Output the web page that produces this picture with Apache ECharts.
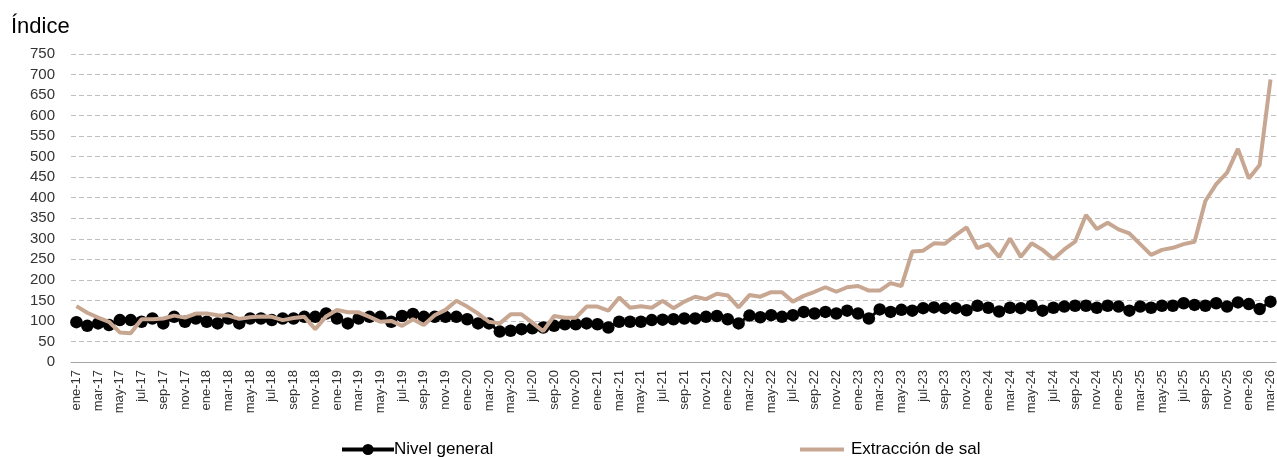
<!DOCTYPE html>
<html>
<head>
<meta charset="utf-8">
<script src="https://cdn.jsdelivr.net/npm/echarts@6/dist/echarts.min.js"></script>
<style>
html,body{margin:0;padding:0;background:#fff;}
#chart{width:1277px;height:457px;}
</style>
</head>
<body>
<div id="chart"></div>
<script>
const months = ['ene','feb','mar','abr','may','jun','jul','ago','sep','oct','nov','dic'];
const categories = [];
for (let y = 17; y <= 26; y++) {
  for (let m = 0; m < 12; m++) {
    if (y === 26 && m > 2) break;
    categories.push(months[m] + '-' + y);
  }
}
const nivelGeneral = [
  97,88,94,90,102,102,98,106,94,110,98,106,98,94,106,94,106,106,102,106,106,110,110,118,106,94,106,
  110,110,98,112,117,110,110,110,110,104,94,94,74,76,80,82,84,88,92,92,94,92,84,98,98,98,102,103,
  104,106,106,110,112,104,94,113,109,114,110,114,122,118,122,118,125,118,106,128,122,127,125,131,133,131,131,126,
  137,132,123,132,131,137,125,132,135,137,137,132,137,135,125,135,132,137,137,143,139,137,143,135,145,141,129,147
];
const extraccionSal = [
  136,120,108,98,72,70,104,104,106,113,108,118,118,114,113,105,109,111,110,102,107,110,80,111,127,121,121,
  110,98,100,88,104,90,114,127,149,135,118,98,94,116,116,96,75,112,108,108,135,135,125,157,132,136,132,149,
  131,147,159,153,166,162,133,163,159,170,170,147,161,171,182,171,182,185,174,174,192,185,269,271,289,288,309,328,
  277,287,256,301,256,289,273,251,274,293,358,324,339,323,313,287,261,273,278,287,293,392,433,461,519,447,480,688
];
const yTicks = {min: 0, max: 750, interval: 50};

const chart = echarts.init(document.getElementById('chart'), null, {renderer: 'canvas'});
chart.setOption({
  animation: false,
  backgroundColor: '#fff',
  textStyle: {fontFamily: 'Liberation Sans, Arial, sans-serif'},
  title: {
    text: 'Índice', left: 6, top: 11,
    textStyle: {fontSize: 22, fontWeight: 'normal', color: '#000', fontFamily: 'Liberation Sans'}
  },
  legend: [
    {data: ['Nivel general'], left: 335, top: 436, itemWidth: 52, itemHeight: 14, itemGap: 4,
     lineStyle: {width: 4},
     textStyle: {fontSize: 17, color: '#000', padding: [0,0,0,-5]}},
    {data: [{name: 'Extracción de sal', icon: 'rect'}], left: 795, top: 436, itemWidth: 44, itemHeight: 4,
     textStyle: {fontSize: 17, color: '#000', padding: [0,0,0,2]}}
  ],
  grid: {left: 71, right: 0, top: 54, bottom: 95, containLabel: false},
  xAxis: {
    type: 'category', data: categories, boundaryGap: true,
    axisLine: {lineStyle: {color: '#a6a6a6', width: 1}},
    axisTick: {interval: 0, length: 5, lineStyle: {color: '#a6a6a6'}},
    axisLabel: {interval: 1, rotate: 90, fontSize: 13, color: '#333', margin: 8, fontFamily: 'Liberation Sans'},
    splitLine: {show: false}
  },
  yAxis: {
    type: 'value', min: yTicks.min, max: yTicks.max, interval: yTicks.interval,
    axisLine: {show: false}, axisTick: {show: false},
    axisLabel: {fontSize: 15, color: '#333', margin: 16, fontFamily: 'Liberation Sans'},
    splitLine: {lineStyle: {color: '#bfbfbf', type: [5,3], width: 1}}
  },
  series: [
    {name: 'Nivel general', type: 'line', data: nivelGeneral,
     symbol: 'circle', symbolSize: 12.5, showAllSymbol: true,
     itemStyle: {color: '#000'}, lineStyle: {color: '#000', width: 3}, z: 2},
    {name: 'Extracción de sal', type: 'line', data: extraccionSal,
     symbol: 'none', itemStyle: {color: '#C8A792'}, lineStyle: {color: '#C8A792', width: 4}, z: 3}
  ]
});
</script>
</body>
</html>
